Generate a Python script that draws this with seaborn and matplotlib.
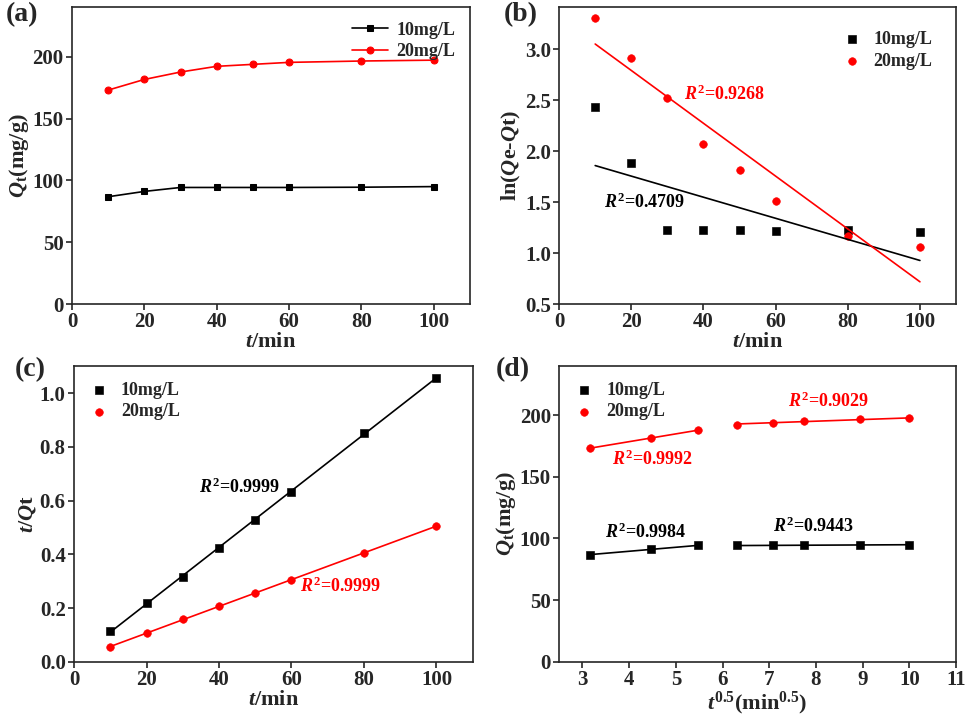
import matplotlib
matplotlib.use('Agg')
import matplotlib.pyplot as plt
import seaborn as sns
import numpy as np

sns.set_style('ticks')
plt.rcParams['font.family'] = ['Liberation Serif', 'DejaVu Serif']
plt.rcParams['font.weight'] = 'bold'
plt.rcParams['axes.labelweight'] = 'bold'
plt.rcParams['mathtext.fontset'] = 'custom'
plt.rcParams['mathtext.it'] = 'Liberation Serif:italic:bold'
plt.rcParams['mathtext.rm'] = 'Liberation Serif:bold'
plt.rcParams['mathtext.bf'] = 'Liberation Serif:bold'
plt.rcParams['xtick.labelsize'] = 15
plt.rcParams['ytick.labelsize'] = 15

# data
t = [10, 20, 30, 40, 50, 60, 80, 100]
qt_10 = [86.8, 91.1, 94.3, 94.3, 94.3, 94.3, 94.5, 95.0]
qt_20 = [173.0, 181.6, 187.6, 192.2, 193.8, 195.4, 196.5, 197.2]

# pseudo-first-order
ln_10 = [2.435, 1.884, 1.225, 1.225, 1.231, 1.221, 1.225, 1.208]
ln_20 = [3.30, 2.915, 2.52, 2.067, 1.819, 1.508, 1.166, 1.058]
fit_t = [10, 100]
fit_ln_10 = [1.858, 0.928]
fit_ln_20 = [3.049, 0.719]

# pseudo-second-order
tq_10 = [0.114, 0.217, 0.317, 0.424, 0.529, 0.634, 0.852, 1.058]
tq_20 = [0.0547, 0.108, 0.158, 0.206, 0.256, 0.304, 0.405, 0.506]

# intraparticle diffusion
sqrt_t = [3.16, 4.47, 5.48, 6.32, 7.07, 7.75, 8.94, 10.0]

BLACK = 'black'
RED = '#ff0000'
TICK_FS = 15
LAB_FS = 16
LEG_FS = 13

fig = plt.figure(figsize=(9.69, 7.19), dpi=100)
ax_a = fig.add_axes([0.0743, 0.577, 0.4107, 0.413])
ax_b = fig.add_axes([0.577, 0.577, 0.4096, 0.413])
ax_c = fig.add_axes([0.0764, 0.0797, 0.4114, 0.4117])
ax_d = fig.add_axes([0.577, 0.0797, 0.4096, 0.4117])


def style(ax):
    for s in ax.spines.values():
        s.set_linewidth(1.2)
    ax.tick_params(direction='out', length=4, width=1.2, labelsize=TICK_FS, pad=2)
    for lab in ax.get_xticklabels() + ax.get_yticklabels():
        lab.set_fontweight('bold')
        lab.set_fontsize(TICK_FS)


def rtext(ax, x, y, s, color):
    ax.text(x, y, s, color=color, fontsize=13, fontweight='bold', va='center', ha='left')


def scat_legend(ax, loc):
    ax.legend(loc=loc, frameon=False, fontsize=LEG_FS, handlelength=1.0,
              handletextpad=0.7, borderaxespad=0.5, labelspacing=0.25)


# (a)
sns.lineplot(x=t, y=qt_10, ax=ax_a, color=BLACK, marker='s', markersize=5,
             markeredgecolor=BLACK, lw=1.2, label='10mg/L')
sns.lineplot(x=t, y=qt_20, ax=ax_a, color=RED, marker='o', markersize=5,
             markeredgecolor=RED, lw=1.2, label='20mg/L')
ax_a.set_xlim(0, 110)
ax_a.set_ylim(0, 240)
ax_a.set_xticks([0, 20, 40, 60, 80, 100])
ax_a.set_yticks([0, 50, 100, 150, 200])
ax_a.set_xlabel('$t$/min', fontsize=LAB_FS, labelpad=0)
ax_a.set_ylabel(r'$Q_{\mathrm{t}}$(mg/g)', fontsize=LAB_FS, labelpad=1)
ax_a.legend(loc='upper right', frameon=False, fontsize=LEG_FS, handlelength=2.0,
            handletextpad=0.5, borderaxespad=0.4, labelspacing=0.25)

# (b)
sns.scatterplot(x=t, y=ln_10, ax=ax_b, color=BLACK, marker='s', s=30,
                edgecolor=BLACK, label='10mg/L')
sns.scatterplot(x=t, y=ln_20, ax=ax_b, color=RED, marker='o', s=30,
                edgecolor=RED, label='20mg/L')
sns.lineplot(x=fit_t, y=fit_ln_10, ax=ax_b, color=BLACK, lw=1.2)
sns.lineplot(x=fit_t, y=fit_ln_20, ax=ax_b, color=RED, lw=1.2)
ax_b.set_xlim(0, 110)
ax_b.set_ylim(0.5, 3.41)
ax_b.set_xticks([0, 20, 40, 60, 80, 100])
ax_b.set_yticks([0.5, 1.0, 1.5, 2.0, 2.5, 3.0])
ax_b.set_xlabel('$t$/min', fontsize=LAB_FS, labelpad=0)
ax_b.set_ylabel('ln($Q$e-$Q$t)', fontsize=LAB_FS, labelpad=1)
ax_b.legend(loc='upper right', frameon=False, fontsize=LEG_FS, handlelength=1.0,
            handletextpad=0.7, borderaxespad=0.9, labelspacing=0.3)
rtext(ax_b, 34.7, 2.56, '$R^2$=0.9268', RED)
rtext(ax_b, 12.5, 1.50, '$R^2$=0.4709', BLACK)

# (c)
sns.scatterplot(x=t, y=tq_10, ax=ax_c, color=BLACK, marker='s', s=30,
                edgecolor=BLACK, label='10mg/L', zorder=3)
sns.scatterplot(x=t, y=tq_20, ax=ax_c, color=RED, marker='o', s=30,
                edgecolor=RED, label='20mg/L', zorder=3)
for y, c in [(tq_10, BLACK), (tq_20, RED)]:
    k, b = np.polyfit(t, y, 1)
    sns.lineplot(x=[t[0], t[-1]], y=[k * t[0] + b, k * t[-1] + b], ax=ax_c, color=c, lw=1.2)
ax_c.set_xlim(0, 110)
ax_c.set_ylim(0, 1.103)
ax_c.set_xticks([0, 20, 40, 60, 80, 100])
ax_c.set_yticks([0.0, 0.2, 0.4, 0.6, 0.8, 1.0])
ax_c.set_xlabel('$t$/min', fontsize=LAB_FS, labelpad=0)
ax_c.set_ylabel('$t$/$Q$t', fontsize=LAB_FS, labelpad=1)
scat_legend(ax_c, 'upper left')
rtext(ax_c, 34.6, 0.648, '$R^2$=0.9999', BLACK)
rtext(ax_c, 62.3, 0.282, '$R^2$=0.9999', RED)

# (d)
sns.scatterplot(x=sqrt_t, y=qt_10, ax=ax_d, color=BLACK, marker='s', s=30,
                edgecolor=BLACK, label='10mg/L', zorder=3)
sns.scatterplot(x=sqrt_t, y=qt_20, ax=ax_d, color=RED, marker='o', s=30,
                edgecolor=RED, label='20mg/L', zorder=3)
for y, c in [(qt_10, BLACK), (qt_20, RED)]:
    for i0, i1 in [(0, 3), (3, 8)]:
        xs = sqrt_t[i0:i1]
        k, b = np.polyfit(xs, y[i0:i1], 1)
        sns.lineplot(x=[xs[0], xs[-1]], y=[k * xs[0] + b, k * xs[-1] + b],
                     ax=ax_d, color=c, lw=1.2)
ax_d.set_xlim(2.5, 11)
ax_d.set_ylim(0, 240)
ax_d.set_xticks(range(3, 12))
ax_d.set_yticks([0, 50, 100, 150, 200])
ax_d.set_xlabel(r'$t^{0.5}$(min$^{0.5}$)', fontsize=LAB_FS, labelpad=0)
ax_d.set_ylabel(r'$Q_{\mathrm{t}}$(mg/g)', fontsize=LAB_FS, labelpad=1)
scat_legend(ax_d, 'upper left')
rtext(ax_d, 7.40, 210.8, '$R^2$=0.9029', RED)
rtext(ax_d, 3.64, 164, '$R^2$=0.9992', RED)
rtext(ax_d, 3.48, 105, '$R^2$=0.9984', BLACK)
rtext(ax_d, 7.08, 110, '$R^2$=0.9443', BLACK)

for ax in [ax_a, ax_b, ax_c, ax_d]:
    style(ax)

for lab, x, y in [('(a)', 0.006, 0.997), ('(b)', 0.52, 0.997),
                  ('(c)', 0.015, 0.503), ('(d)', 0.512, 0.503)]:
    fig.text(x, y, lab, fontsize=20, fontweight='bold', va='top', ha='left')

fig.savefig('out.png', dpi=100)
